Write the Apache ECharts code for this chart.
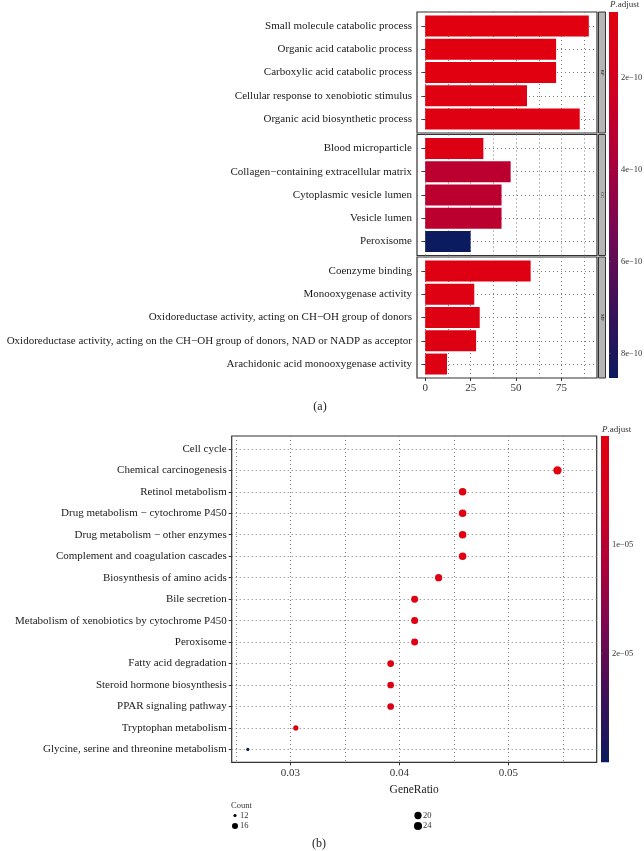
<!DOCTYPE html>
<html><head><meta charset="utf-8">
<script src="https://cdn.jsdelivr.net/npm/echarts@6/dist/echarts.min.js"></script>
<style>html,body{margin:0;padding:0;background:#fff}#c{width:644px;height:851px}</style>
</head><body><div id="c"></div>
<script>
const FONT = '"Liberation Serif", "DejaVu Serif", serif';

// ---------- (a) GO enrichment (bar chart, faceted) ----------
const bpTerms = ['Small molecule catabolic process','Organic acid catabolic process','Carboxylic acid catabolic process','Cellular response to xenobiotic stimulus','Organic acid biosynthetic process'];
const bpCounts = [90, 72, 72, 56, 85];
const bpPadj = [5.8e-11, 6.2e-11, 6.2e-11, 7.5e-11, 6.8e-11];

const ccTerms = ['Blood microparticle','Collagen−containing extracellular matrix','Cytoplasmic vesicle lumen','Vesicle lumen','Peroxisome'];
const ccCounts = [32, 47, 42, 42, 25];
const ccPadj = [1.0e-10, 3.2e-10, 3.2e-10, 3.2e-10, 8.53e-10];

const mfTerms = ['Coenzyme binding','Monooxygenase activity','Oxidoreductase activity, acting on CH−OH group of donors','Oxidoreductase activity, acting on the CH−OH group of donors, NAD or NADP as acceptor','Arachidonic acid monooxygenase activity'];
const mfCounts = [58, 27, 30, 28, 12];
const mfPadj = [8.0e-11, 9.0e-11, 8.5e-11, 9.5e-11, 9.0e-11];

const facetLabels = ['BP', 'CC', 'MF'];
const countTicks = [0, 25, 50, 75];
const countTickLabels = ['0', '25', '50', '75'];
const countGridValues = [0, 12.5, 25, 37.5, 50, 62.5, 75, 87.5];
const padjTicksA = [2e-10, 4e-10, 6e-10, 8e-10];
const padjTickLabelsA = ['2e−10', '4e−10', '6e−10', '8e−10'];

// ---------- (b) KEGG dot plot ----------
const keggTerms = ['Cell cycle','Chemical carcinogenesis','Retinol metabolism','Drug metabolism − cytochrome P450','Drug metabolism − other enzymes','Complement and coagulation cascades','Biosynthesis of amino acids','Bile secretion','Metabolism of xenobiotics by cytochrome P450','Peroxisome','Fatty acid degradation','Steroid hormone biosynthesis','PPAR signaling pathway','Tryptophan metabolism','Glycine, serine and threonine metabolism'];
const keggRatio = [null, 0.0545, 0.0458, 0.0458, 0.0458, 0.0458, 0.0436, 0.0414, 0.0414, 0.0414, 0.0392, 0.0392, 0.0392, 0.0305, 0.0261];
const keggCount = [null, 25, 21, 21, 21, 21, 20, 19, 19, 19, 18, 18, 18, 14, 12];
const keggPadj = [null, 1.2e-08, 3.5e-08, 4.0e-08, 4.5e-08, 5.0e-08, 2.2e-07, 6.0e-07, 6.5e-07, 7.0e-07, 1.5e-06, 1.6e-06, 1.7e-06, 2.5e-06, 3.0e-05];
const ratioTicks = [0.03, 0.04, 0.05];
const ratioTickLabels = ['0.03', '0.04', '0.05'];
const ratioGridValues = [0.025, 0.03, 0.035, 0.04, 0.045, 0.05, 0.055];
const padjTicksB = [1e-05, 2e-05];
const padjTickLabelsB = ['1e−05', '2e−05'];
const countLegend = [12, 16, 20, 24];

// ---------- styling / layout ----------
const palette = ['#e00010', '#d4001f', '#ad003a', '#760852', '#3d1058', '#0c1a5f'];
const gridLine = { type: [1, 3], color: '#7a7a7a', width: 1 };
const A = { left: 417, width: 180, xMin: -4.5, xMax: 94.5, tops: [12, 134.5, 257], h: 121 };
const stepA = A.h / 5.2;
const B = { left: 231.7, width: 365, top: 436, h: 326.3, xMin: 0.02462, xMax: 0.0581 };
const stepB = B.h / 15.2;
const sizeLim = [12, 26];
function dotSize(v) { return 1.07 * (3 + 5 * Math.sqrt((v - sizeLim[0]) / (sizeLim[1] - sizeLim[0]))); }
function lookup(vals, labels, v) {
  let bi = 0; vals.forEach((x, i) => { if (Math.abs(x - v) < Math.abs(vals[bi] - v)) bi = i; });
  return labels[bi];
}

const grids = [], xAxes = [], yAxes = [], series = [], graphics = [];
function addGrid(g) { grids.push(Object.assign({ outerBoundsMode: 'none', containLabel: false }, g)); return grids.length - 1; }

// (a) facets
const facets = [
  { terms: bpTerms, counts: bpCounts, padj: bpPadj },
  { terms: ccTerms, counts: ccCounts, padj: ccPadj },
  { terms: mfTerms, counts: mfCounts, padj: mfPadj }
];
facets.forEach((f, k) => {
  const top = A.tops[k];
  const go = addGrid({ left: A.left, top: top, width: A.width, height: A.h, show: true, borderColor: '#333', borderWidth: 1.2, backgroundColor: 'rgba(0,0,0,0)' });
  xAxes.push({ gridIndex: go, type: 'value', min: A.xMin, max: A.xMax, position: 'top',
    axisLine: { show: false }, axisLabel: { show: false }, axisTick: { show: false, customValues: countGridValues },
    splitLine: { show: true, lineStyle: gridLine } });
  if (k === 2) {
    xAxes.push({ gridIndex: go, type: 'value', min: A.xMin, max: A.xMax, position: 'bottom',
      axisLine: { show: false }, splitLine: { show: false },
      axisTick: { show: true, length: 3, customValues: countTicks, lineStyle: { color: '#333' } },
      axisLabel: { customValues: countTicks, margin: 5, fontFamily: FONT, fontSize: 11, color: '#333',
        formatter: v => lookup(countTicks, countTickLabels, v) } });
  }
  yAxes.push({ gridIndex: go, type: 'value', show: false, min: 0, max: 1 });

  const gi = addGrid({ left: A.left, top: top + 0.6 * stepA, width: A.width, height: 4 * stepA });
  const xi = xAxes.length;
  xAxes.push({ gridIndex: gi, type: 'value', min: A.xMin, max: A.xMax, show: false });
  const yi = yAxes.length;
  yAxes.push({ gridIndex: gi, type: 'category', data: f.terms, inverse: true, boundaryGap: false,
    axisLine: { show: false },
    axisTick: { show: true, length: 3, interval: 0, lineStyle: { color: '#333' } },
    axisLabel: { interval: 0, margin: 5, fontFamily: FONT, fontSize: 11, color: '#1a1a1a' },
    splitLine: { show: true, interval: 0, lineStyle: gridLine } });
  series.push({ type: 'bar', xAxisIndex: xi, yAxisIndex: yi, barWidth: '90%', clip: false,
    encode: { x: 0, y: 1 },
    data: f.terms.map((t, i) => [f.counts[i], t, f.padj[i]]) });

  // facet strip
  graphics.push({ type: 'rect', shape: { x: 598.5, y: top, width: 7, height: A.h },
    style: { fill: '#b5b5b5', stroke: '#333', lineWidth: 1 } });
  graphics.push({ type: 'text', x: 602, y: top + A.h / 2, rotation: -Math.PI / 2,
    style: { text: facetLabels[k], fontSize: 5, fontFamily: FONT, fill: '#222', align: 'center', verticalAlign: 'middle' } });
});

// (a) colour bar axis
const allPadjA = bpPadj.concat(ccPadj, mfPadj);
const padjRangeA = [Math.min(...allPadjA), Math.max(...allPadjA)];
const cbA = { left: 609, top: 12, width: 9, height: 366 };
const gcA = addGrid(cbA);
xAxes.push({ gridIndex: gcA, type: 'value', show: false, min: 0, max: 1 });
yAxes.push({ gridIndex: gcA, type: 'value', min: padjRangeA[0], max: padjRangeA[1], inverse: true, position: 'right',
  axisLine: { show: false }, splitLine: { show: false },
  axisTick: { show: true, length: 2, customValues: padjTicksA, lineStyle: { color: '#444' } },
  axisLabel: { customValues: padjTicksA, margin: 3, fontFamily: FONT, fontSize: 8.5, color: '#333',
    formatter: v => lookup(padjTicksA, padjTickLabelsA, v) } });

// (b) panel
const gob = addGrid({ left: B.left, top: B.top, width: B.width, height: B.h, show: true, borderColor: '#333', borderWidth: 1.2, backgroundColor: 'rgba(0,0,0,0)' });
xAxes.push({ gridIndex: gob, type: 'value', min: B.xMin, max: B.xMax, position: 'top',
  axisLine: { show: false }, axisLabel: { show: false }, axisTick: { show: false, customValues: ratioGridValues },
  splitLine: { show: true, lineStyle: gridLine } });
xAxes.push({ gridIndex: gob, type: 'value', min: B.xMin, max: B.xMax, position: 'bottom',
  axisLine: { show: false }, splitLine: { show: false },
  axisTick: { show: true, length: 3, customValues: ratioTicks, lineStyle: { color: '#333' } },
  axisLabel: { customValues: ratioTicks, margin: 5, fontFamily: FONT, fontSize: 11, color: '#333',
    formatter: v => lookup(ratioTicks, ratioTickLabels, v) },
  name: 'GeneRatio', nameLocation: 'middle', nameGap: 22,
  nameTextStyle: { fontFamily: FONT, fontSize: 11.5, color: '#1a1a1a' } });
yAxes.push({ gridIndex: gob, type: 'value', show: false, min: 0, max: 1 });

const gib = addGrid({ left: B.left, top: B.top + 0.6 * stepB, width: B.width, height: 14 * stepB });
const xib = xAxes.length;
xAxes.push({ gridIndex: gib, type: 'value', min: B.xMin, max: B.xMax, show: false });
const yib = yAxes.length;
yAxes.push({ gridIndex: gib, type: 'category', data: keggTerms, inverse: true, boundaryGap: false,
  axisLine: { show: false },
  axisTick: { show: true, length: 3, interval: 0, lineStyle: { color: '#333' } },
  axisLabel: { interval: 0, margin: 5, fontFamily: FONT, fontSize: 11, color: '#1a1a1a' },
  splitLine: { show: true, interval: 0, lineStyle: gridLine } });
const keggData = [];
keggTerms.forEach((t, i) => { if (keggRatio[i] != null) keggData.push([keggRatio[i], t, keggPadj[i], keggCount[i]]); });
series.push({ type: 'scatter', xAxisIndex: xib, yAxisIndex: yib, encode: { x: 0, y: 1 },
  symbol: 'circle', symbolSize: d => dotSize(d[3]), clip: false, itemStyle: { opacity: 1 }, data: keggData });

// (b) colour bar axis
const padjValsB = keggPadj.filter(v => v != null);
const padjRangeB = [Math.min(...padjValsB), Math.max(...padjValsB)];
const cbB = { left: 601, top: 436, width: 8, height: 326.3 };
const gcB = addGrid(cbB);
xAxes.push({ gridIndex: gcB, type: 'value', show: false, min: 0, max: 1 });
yAxes.push({ gridIndex: gcB, type: 'value', min: padjRangeB[0], max: padjRangeB[1], inverse: true, position: 'right',
  axisLine: { show: false }, splitLine: { show: false },
  axisTick: { show: true, length: 2, customValues: padjTicksB, lineStyle: { color: '#444' } },
  axisLabel: { customValues: padjTicksB, margin: 3, fontFamily: FONT, fontSize: 8.5, color: '#333',
    formatter: v => lookup(padjTicksB, padjTickLabelsB, v) } });

// colour bar gradients + titles
const stops = palette.map((c, i) => ({ offset: i / (palette.length - 1), color: c }));
[cbA, cbB].forEach(cb => {
  graphics.push({ type: 'rect', shape: { x: cb.left, y: cb.top, width: cb.width, height: cb.height },
    style: { fill: { type: 'linear', x: 0, y: 0, x2: 0, y2: 1, colorStops: stops } } });
});
function padjTitle(x, y) {
  return { type: 'text', x: x, y: y, style: { text: '{i|P}.adjust', fontFamily: FONT, fontSize: 9, fill: '#333',
    verticalAlign: 'middle', rich: { i: { fontStyle: 'italic', fontFamily: FONT, fontSize: 9, fill: '#333' } } } };
}
graphics.push(padjTitle(610, 5));
graphics.push(padjTitle(602, 430));

// captions
graphics.push({ type: 'text', x: 320, y: 407, style: { text: '(a)', fontFamily: FONT, fontSize: 12, fill: '#222', align: 'center', verticalAlign: 'middle' } });
graphics.push({ type: 'text', x: 319, y: 844, style: { text: '(b)', fontFamily: FONT, fontSize: 12, fill: '#222', align: 'center', verticalAlign: 'middle' } });

// size legend
graphics.push({ type: 'text', x: 231, y: 806, style: { text: 'Count', fontFamily: FONT, fontSize: 8.5, fill: '#333', verticalAlign: 'middle' } });
const legPos = [[235, 815.5], [235, 826], [418, 815.5], [418, 826]];
countLegend.forEach((v, i) => {
  const [cx, cy] = legPos[i];
  graphics.push({ type: 'circle', shape: { cx: cx, cy: cy, r: dotSize(v) / 2 }, style: { fill: '#000' } });
  graphics.push({ type: 'text', x: cx + 5, y: cy, style: { text: String(v), fontFamily: FONT, fontSize: 8.5, fill: '#333', verticalAlign: 'middle' } });
});

const chart = echarts.init(document.getElementById('c'));
chart.setOption({
  animation: false,
  backgroundColor: '#fff',
  textStyle: { fontFamily: FONT },
  grid: grids, xAxis: xAxes, yAxis: yAxes, series: series,
  visualMap: [
    { type: 'continuous', show: false, seriesIndex: [0, 1, 2], dimension: 2, min: padjRangeA[0], max: padjRangeA[1], inRange: { color: palette } },
    { type: 'continuous', show: false, seriesIndex: [3], dimension: 2, min: padjRangeB[0], max: padjRangeB[1], inRange: { color: palette } }
  ],
  graphic: graphics
});
</script></body></html>
